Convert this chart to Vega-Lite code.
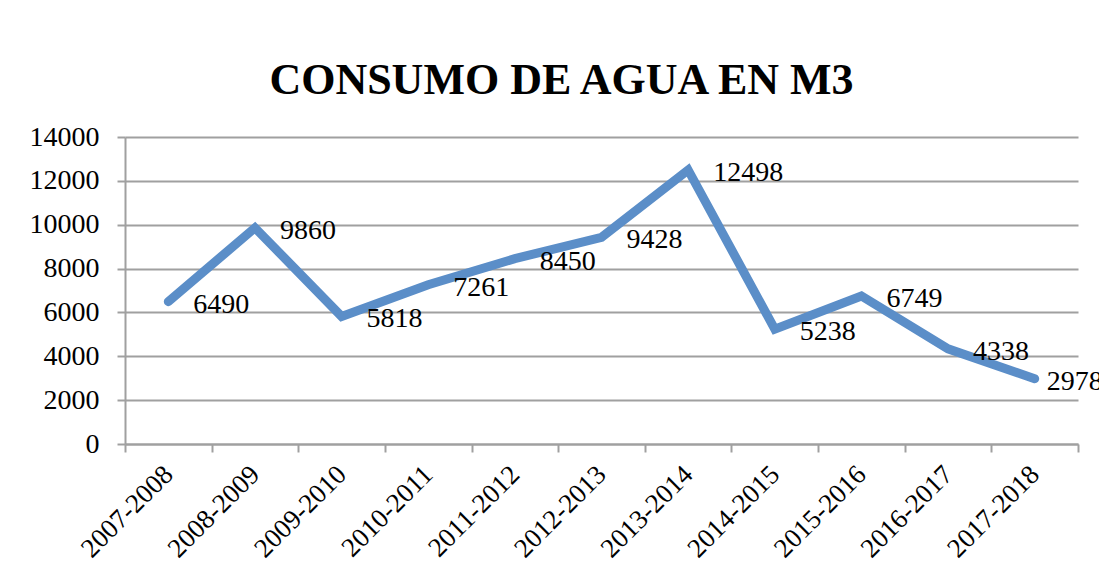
{
  "$schema": "https://vega.github.io/schema/vega-lite/v6.json",
  "autosize": {"type": "none"},
  "width": 953,
  "height": 307,
  "padding": {"left": 125, "top": 137, "right": 21, "bottom": 139},
  "background": "white",
  "title": {
    "text": "CONSUMO DE AGUA EN M3",
    "font": "Liberation Serif",
    "fontSize": 44,
    "fontWeight": "bold",
    "color": "black",
    "anchor": "middle",
    "dx": -40,
    "offset": 20
  },
  "data": {
    "values": [
      {"periodo": "2007-2008", "m3": 6490},
      {"periodo": "2008-2009", "m3": 9860},
      {"periodo": "2009-2010", "m3": 5818},
      {"periodo": "2010-2011", "m3": 7261},
      {"periodo": "2011-2012", "m3": 8450},
      {"periodo": "2012-2013", "m3": 9428},
      {"periodo": "2013-2014", "m3": 12498},
      {"periodo": "2014-2015", "m3": 5238},
      {"periodo": "2015-2016", "m3": 6749},
      {"periodo": "2016-2017", "m3": 4338},
      {"periodo": "2017-2018", "m3": 2978}
    ]
  },
  "encoding": {
    "x": {
      "field": "periodo",
      "type": "ordinal",
      "sort": null,
      "scale": {"paddingInner": 0, "paddingOuter": 0},
      "axis": {
        "title": null,
        "tickBand": "extent",
        "grid": false,
        "labelAngle": -45,
        "labelAlign": "right",
        "labelBaseline": "middle",
        "labelPadding": 18,
        "labelFont": "Liberation Serif",
        "labelFontSize": 27,
        "labelColor": "black",
        "domainColor": "#a0a0a0",
        "domainWidth": 2,
        "tickColor": "#a0a0a0",
        "tickWidth": 2,
        "tickSize": 8
      }
    },
    "y": {
      "field": "m3",
      "type": "quantitative",
      "scale": {"domain": [0, 14000], "nice": false},
      "axis": {
        "title": null,
        "values": [0, 2000, 4000, 6000, 8000, 10000, 12000, 14000],
        "format": "d",
        "grid": true,
        "gridColor": "#a0a0a0",
        "gridWidth": 2,
        "labelFont": "Liberation Serif",
        "labelFontSize": 28,
        "labelColor": "black",
        "labelPadding": 18,
        "domainColor": "#a0a0a0",
        "domainWidth": 2,
        "tickColor": "#a0a0a0",
        "tickWidth": 2,
        "tickSize": 8
      }
    }
  },
  "layer": [
    {
      "mark": {"type": "line", "color": "#5b8ec8", "strokeWidth": 9, "strokeCap": "round", "strokeJoin": "miter"}
    },
    {
      "transform": [{"filter": "datum.periodo != '2017-2018'"}],
      "mark": {"type": "text", "align": "left", "baseline": "middle", "dx": 25, "dy": 3, "font": "Liberation Serif", "fontSize": 28, "color": "black"},
      "encoding": {"text": {"field": "m3", "type": "quantitative", "format": "d"}}
    },
    {
      "transform": [{"filter": "datum.periodo == '2017-2018'"}],
      "mark": {"type": "text", "align": "left", "baseline": "middle", "dx": 12, "dy": 3, "font": "Liberation Serif", "fontSize": 28, "color": "black"},
      "encoding": {"text": {"field": "m3", "type": "quantitative", "format": "d"}}
    }
  ],
  "config": {"view": {"stroke": null}}
}
